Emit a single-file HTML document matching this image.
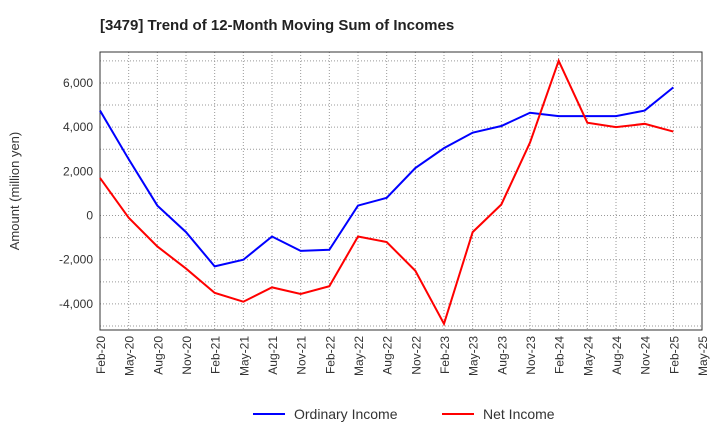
<!DOCTYPE html>
<html><head><meta charset="utf-8"><style>
body{margin:0;background:#fff;font-family:"Liberation Sans",sans-serif}
</style></head><body>
<svg width="720" height="440" xmlns="http://www.w3.org/2000/svg" font-family="Liberation Sans, sans-serif">
<text x="100" y="30" font-size="15" font-weight="bold" fill="#222">[3479]  Trend of 12-Month Moving Sum of Incomes</text>
<g id="grid"></g>
<g id="axes"></g>
<g id="series"></g>
<text transform="translate(19,191) rotate(-90)" text-anchor="middle" font-size="13" fill="#333">Amount (million yen)</text>
<g>
<line x1="253" y1="414" x2="285" y2="414" stroke="#0000ff" stroke-width="2"/>
<text x="294" y="419" font-size="14" fill="#333">Ordinary Income</text>
<line x1="442" y1="414" x2="474" y2="414" stroke="#ff0000" stroke-width="2"/>
<text x="483" y="419" font-size="14" fill="#333">Net Income</text>
</g>
</svg>
<script>
const categories=["Feb-20","May-20","Aug-20","Nov-20","Feb-21","May-21","Aug-21","Nov-21","Feb-22","May-22","Aug-22","Nov-22","Feb-23","May-23","Aug-23","Nov-23","Feb-24","May-24","Aug-24","Nov-24","Feb-25","May-25"];
const ordinaryIncome=[4750,2550,450,-750,-2300,-2000,-950,-1600,-1550,450,800,2150,3050,3750,4050,4650,4500,4500,4500,4750,5800];
const netIncome=[1700,-100,-1400,-2400,-3500,-3900,-3250,-3550,-3200,-950,-1200,-2500,-4900,-750,500,3300,7000,4200,4000,4150,3800];
const yTicks=[-4000,-2000,0,2000,4000,6000];
const L=100,R=702,T=52,B=330,yMin=-5180,yMax=7400;
const NS="http://www.w3.org/2000/svg";
const x=i=>L+i*(R-L)/(categories.length-1);
const y=v=>B-(v-yMin)/(yMax-yMin)*(B-T);
function mk(tag,attrs,parent){const e=document.createElementNS(NS,tag);for(const k in attrs)e.setAttribute(k,attrs[k]);document.getElementById(parent).appendChild(e);return e;}
categories.forEach((c,i)=>{
 const g=mk('line',{x1:x(i),x2:x(i),y1:T,y2:B,stroke:'#999','stroke-dasharray':'1,2','stroke-width':1},'grid');
 
 
 const t=mk('text',{transform:`translate(${x(i)+5},${B+6}) rotate(-90)`,'text-anchor':'end','font-size':12,fill:'#333'},'axes');
 t.textContent=c;
 
 
});
for(let v=-5000;v<=7000;v+=1000){
 const g=mk('line',{x1:L,x2:R,y1:y(v),y2:y(v),stroke:'#999','stroke-dasharray':'1,2','stroke-width':1},'grid');
 
 
}
yTicks.forEach(v=>{
 const t=mk('text',{x:L-7,y:y(v)+4,'text-anchor':'end','font-size':12,fill:'#333'},'axes');
 t.textContent=v.toLocaleString('en-US').replace('-','-');
 
 
});
const fr=mk('rect',{x:L,y:T,width:R-L,height:B-T,fill:'none',stroke:'#333','stroke-width':1},'axes');


function line(data,color,name){
 const p=mk('polyline',{points:data.map((v,i)=>x(i)+','+y(v)).join(' '),fill:'none',stroke:color,'stroke-width':2},'series');
 
 
}
line(ordinaryIncome,'#0000ff','ordinary-income-line');
line(netIncome,'#ff0000','net-income-line');
</script>
</body></html>
